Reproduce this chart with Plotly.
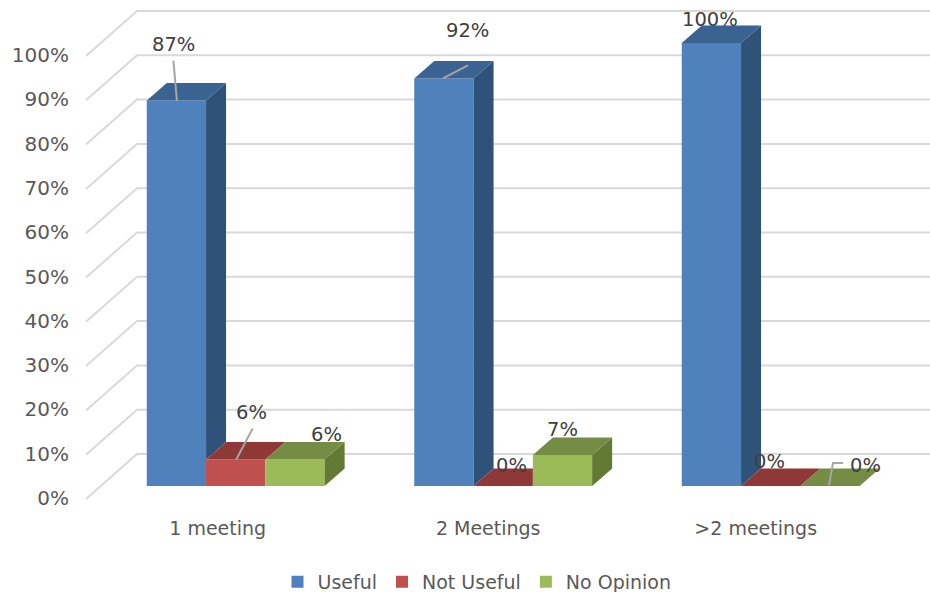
import plotly.graph_objects as go

categories = ["1 meeting", "2 Meetings", ">2 meetings"]
useful = [87, 92, 100]
not_useful = [6, 0, 0]
no_opinion = [6, 7, 0]
y_ticks = [0, 10, 20, 30, 40, 50, 60, 70, 80, 90, 100]

series_names = ["Useful", "Not Useful", "No Opinion"]
series_values = [useful, not_useful, no_opinion]
front_colors = ["#4F81BD", "#C0504D", "#9BBB59"]
top_colors = ["#3A6391", "#8E3937", "#748C43"]
side_colors = ["#2F5279", "#7A2F2D", "#637A35"]

# layout scales: pixels per axis unit
PX_PER_X = 267.5
PX_PER_Y = 4.43
ZERO_X_PX = 235.7
ZERO_Y_PX = 498
LEFT, BOTTOM = 78, 510
W, H = 930, 592
BAR_W = 59.3 / PX_PER_X
BASE = 12 / PX_PER_Y          # bars stand part-way into the floor
DEPTH_X = 20 / PX_PER_X
DEPTH_Y = 17.5 / PX_PER_Y
FONT = "DejaVu Sans"


def ux(px):
    return px / PX_PER_X


def uy(px):
    return px / PX_PER_Y


x_range = [ux(LEFT - ZERO_X_PX), ux(W - ZERO_X_PX)]
y_range = [-uy(BOTTOM - ZERO_Y_PX), uy(ZERO_Y_PX)]

fig = go.Figure()

# bar fronts (real bars, also feed the legend)
for name, vals, col in zip(series_names, series_values, front_colors):
    fig.add_trace(go.Bar(
        name=name, x=list(range(len(categories))), y=vals, base=BASE,
        marker=dict(color=col, line=dict(width=0)), hoverinfo="skip",
    ))

# 3D faces computed from the same values
for g in range(len(categories)):
    for s in range(3):
        v = series_values[s][g]
        nxt = series_values[s + 1][g] if s < 2 else 0
        x0 = g + (s - 1.5) * BAR_W
        x1 = x0 + BAR_W
        y = BASE + v
        # side face, hidden below the neighbouring bar's height
        if v > nxt:
            low = BASE + nxt
            fig.add_trace(go.Scatter(
                x=[x1, x1 + DEPTH_X, x1 + DEPTH_X, x1, x1],
                y=[y, y + DEPTH_Y, low + DEPTH_Y, low, y],
                mode="lines", fill="toself", fillcolor=side_colors[s],
                line=dict(width=0), showlegend=False, hoverinfo="skip"))
        # top face, right edge hidden by a taller neighbour
        right_back = x1 if nxt > v else x1 + DEPTH_X
        fig.add_trace(go.Scatter(
            x=[x0, x1, right_back, x0 + DEPTH_X, x0],
            y=[y, y, y + DEPTH_Y, y + DEPTH_Y, y],
            mode="lines", fill="toself", fillcolor=top_colors[s],
            line=dict(width=0), showlegend=False, hoverinfo="skip"))

# back wall and side wall grid
shapes = []
wall_dx, wall_dy = ux(51), uy(45)
wall_x = ux(86 - ZERO_X_PX)
front_shift = uy(-1)
for t in y_ticks:
    y0 = t + front_shift
    path = (f"M {wall_x},{y0} L {wall_x + wall_dx},{y0 + wall_dy} "
            f"L {x_range[1]},{y0 + wall_dy}")
    shapes.append(dict(type="path", path=path, xref="x", yref="y", layer="below",
                       line=dict(color="#D9D9D9", width=2)))

# data labels: pixel offset from the bar's front-top centre
label_offsets = {
    (0, 0): (-3, 56), (0, 1): (16, 47), (0, 2): (31, 25),
    (1, 0): (24, 48), (1, 1): (8, 21), (1, 2): (0, 25),
    (2, 0): (-1, 24), (2, 1): (-1, 25), (2, 2): (35, 21),
}
annotations = []
for (g, s), (dx, dy) in label_offsets.items():
    v = series_values[s][g]
    annotations.append(dict(
        x=g + (s - 1) * BAR_W, y=BASE + v, xref="x", yref="y",
        text=f"{v}%", showarrow=False, xshift=dx, yshift=dy,
        font=dict(family=FONT, size=19.5, color="#404040")))

# leader lines: pixel offsets from the bar's front-top centre
leaders = {
    (0, 0): [(-3, 40), (0.5, 0)],
    (1, 0): [(24, 13), (-1, 0)],
    (0, 1): [(17, 31), (0.5, 0)],
    (2, 2): [(-1, 1), (3, 23), (13, 23)],
}
for (g, s), pts in leaders.items():
    cx = g + (s - 1) * BAR_W
    v = BASE + series_values[s][g]
    fig.add_trace(go.Scatter(
        x=[cx + ux(p[0]) for p in pts], y=[v + uy(p[1]) for p in pts],
        mode="lines", line=dict(color="#A6A6A6", width=2),
        showlegend=False, hoverinfo="skip"))

category_shift_px = [-18, -15, -15]
plot_w, plot_h = W - LEFT, BOTTOM

fig.update_layout(
    width=W, height=H,
    margin=dict(l=LEFT, r=0, t=0, b=H - BOTTOM, autoexpand=False),
    paper_bgcolor="white", plot_bgcolor="white",
    barmode="group", bargap=1 - 3 * BAR_W, bargroupgap=0,
    font=dict(family=FONT, size=19, color="#595959"),
    shapes=shapes, annotations=annotations,
    legend=dict(orientation="h", xanchor="center", yanchor="middle",
                x=(477 - LEFT) / plot_w, y=(BOTTOM - 582) / plot_h,
                font=dict(family=FONT, size=19, color="#595959")),
    xaxis=dict(range=x_range, showgrid=False, zeroline=False, showline=False,
               tickmode="array", tickvals=[i + ux(d) for i, d in enumerate(category_shift_px)],
               ticktext=categories, ticks="", ticklabelstandoff=5),
    yaxis=dict(range=y_range, showgrid=False, zeroline=False, showline=False,
               tickmode="array", tickvals=y_ticks, ticktext=[f"{t}%" for t in y_ticks],
               ticks="", ticklabelstandoff=8, tickfont=dict(family=FONT, size=20, color="#595959")),
)

fig.write_html("out.html", config={"displayModeBar": False},
               post_script="document.body.style.margin='0';document.body.style.overflow='hidden';")
